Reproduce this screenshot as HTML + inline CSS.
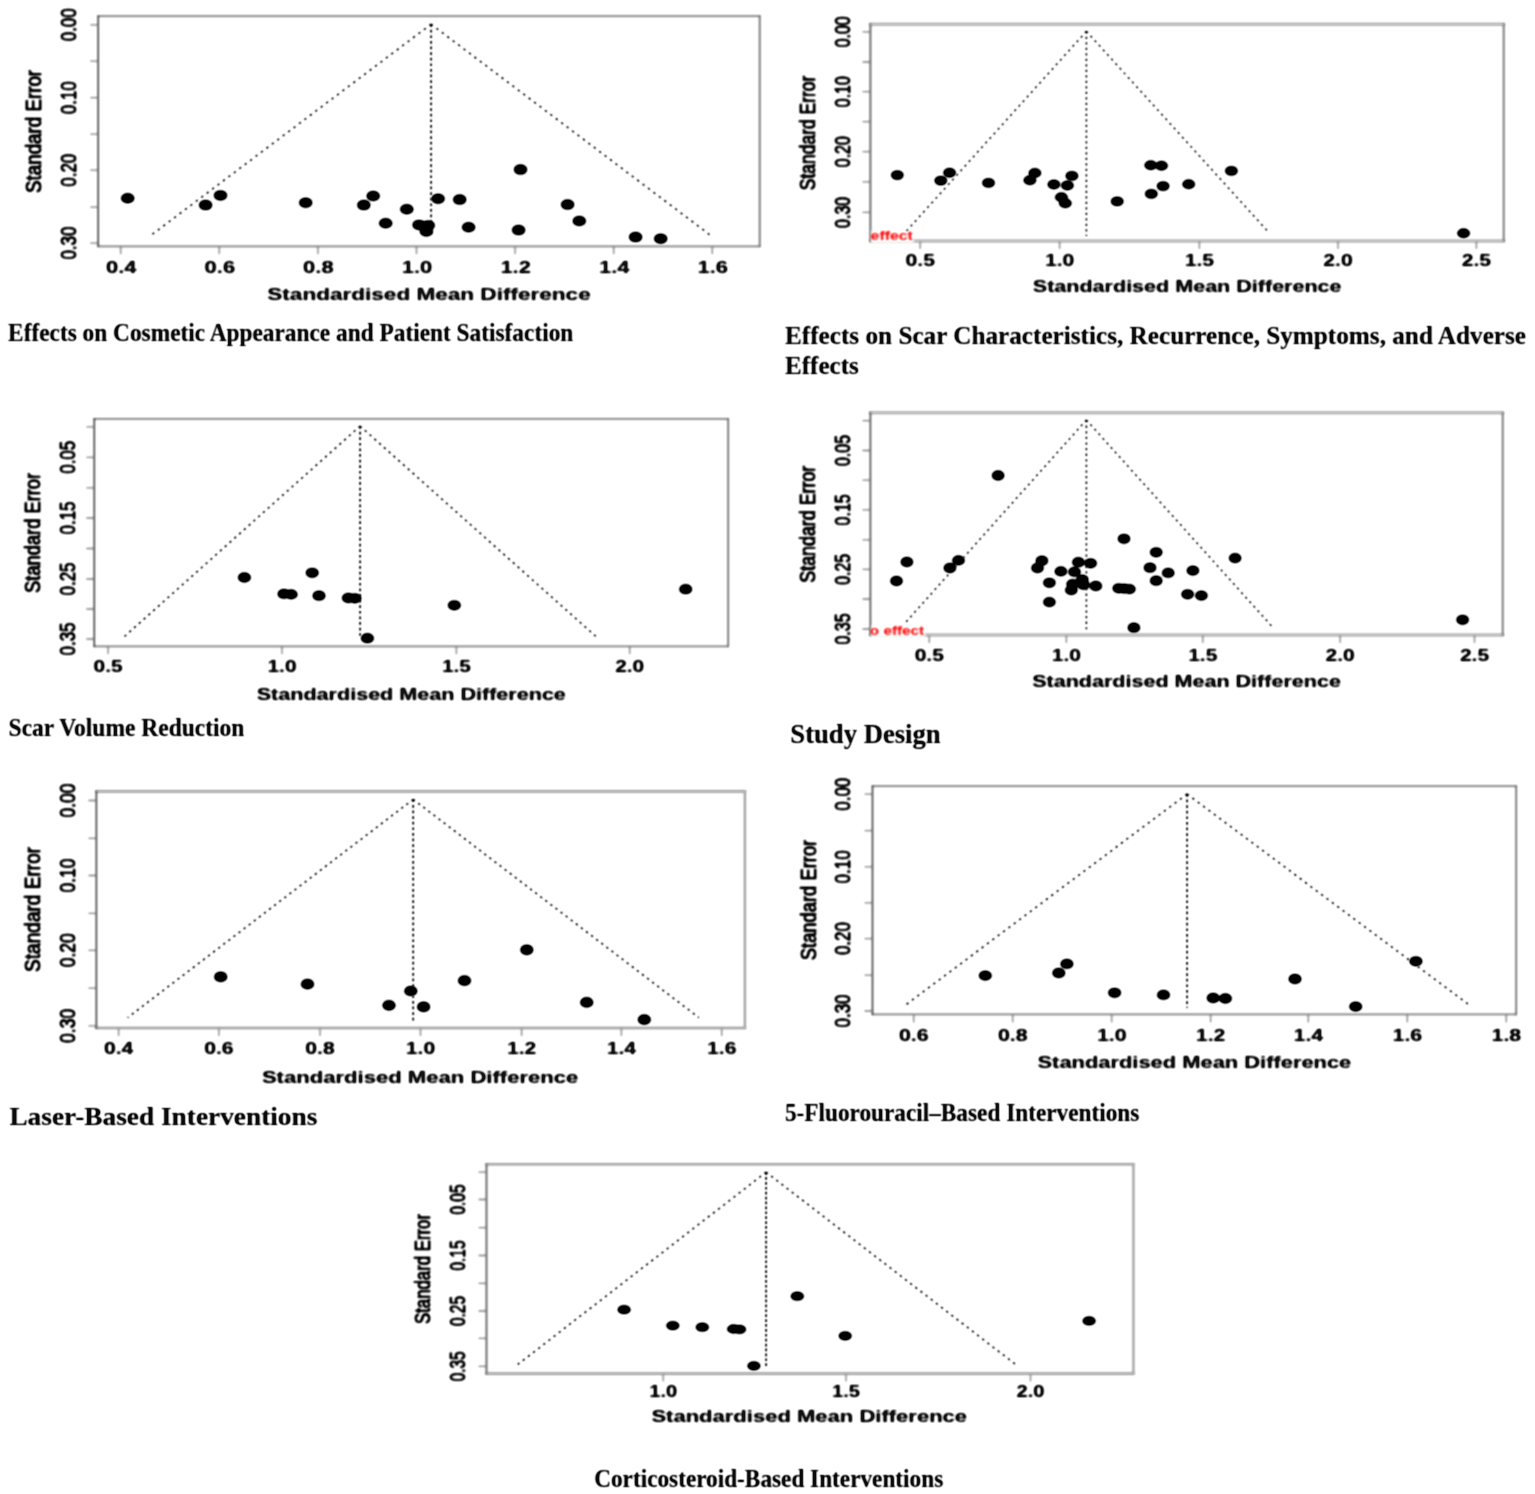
<!DOCTYPE html>
<html lang="en">
<head>
<meta charset="utf-8">
<title>Funnel plots</title>
<style>
html,body{margin:0;padding:0;background:#fff;}
body{width:1535px;height:1494px;overflow:hidden;}
svg{display:block;}
.ax{font-family:"Liberation Sans",Arial,Helvetica,sans-serif;fill:#111;}
.xl{font-weight:bold;}
.xt{font-weight:bold;}
.yl{font-weight:normal;font-size:22.8px;stroke:#111;stroke-width:0.7px;}
.yt{font-weight:normal;font-size:22.8px;stroke:#111;stroke-width:0.7px;}
.cap{font-family:"Liberation Serif","Times New Roman",serif;font-weight:bold;fill:#0a0a0a;}
.red{font-family:"Liberation Sans",Arial,sans-serif;font-weight:bold;fill:#ff2222;fill-opacity:0.88;}
.dot{fill:none;stroke:#161616;}
.tk{stroke:#9a9a9a;stroke-width:1.3;fill:none;}
.pt{fill:#000;}
</style>
</head>
<body>
<svg width="1535" height="1494" viewBox="0 0 1535 1494">
<defs>
<filter id="soft" x="-5%" y="-5%" width="110%" height="110%" color-interpolation-filters="sRGB"><feConvolveMatrix order="5" kernelMatrix="1 4 6 4 1 4 16 24 16 4 6 24 36 24 6 4 16 24 16 4 1 4 6 4 1" edgeMode="none"/><feComponentTransfer><feFuncA type="linear" slope="1.5" intercept="-0.06"/></feComponentTransfer></filter>
<filter id="soft2" x="-5%" y="-5%" width="110%" height="110%" color-interpolation-filters="sRGB"><feConvolveMatrix order="3" kernelMatrix="1 2 1 2 5 2 1 2 1" edgeMode="none"/><feComponentTransfer><feFuncA type="linear" slope="1.25" intercept="-0.03"/></feComponentTransfer></filter>
<filter id="soft3" x="-5%" y="-5%" width="110%" height="110%" color-interpolation-filters="sRGB"><feConvolveMatrix order="3" kernelMatrix="1 2 1 2 4 2 1 2 1" edgeMode="none"/><feComponentTransfer><feFuncA type="linear" slope="1.15" intercept="0"/></feComponentTransfer></filter>
</defs>
<rect x="0" y="0" width="1535" height="1494" fill="#ffffff"/>

<g id="p1">
<g filter="url(#soft)">
<path d="M98.2 16.2H759.7M98.2 246.3H759.7" fill="none" stroke="#9c9c9c" stroke-width="1.7" stroke-linecap="square"/>
<path d="M98.2 16.2V246.3" fill="none" stroke="#5e5e5e" stroke-width="1.5" stroke-linecap="square"/>
<path d="M759.7 16.2V246.3" fill="none" stroke="#8a8a8a" stroke-width="1.7" stroke-linecap="square"/>
<path class="tk" d="M90.2 24.8H98.2M90.2 61.2H98.2M90.2 97.7H98.2M90.2 134.2H98.2M90.2 170.2H98.2M90.2 207.2H98.2M90.2 243.1H98.2M120.7 246.3V254.3M219.3 246.3V254.3M317.9 246.3V254.3M416.5 246.3V254.3M515.1 246.3V254.3M613.7 246.3V254.3M712.3 246.3V254.3"/>
</g>
<g filter="url(#soft3)">
<path class="dot" stroke-width="1.6" stroke-dasharray="2.1 4.7" d="M431.1 24.2L149.3 236.6M431.1 24.2L712.2 236.6"/>
<path class="dot" stroke-width="1.7" stroke-dasharray="2.7 2.9" d="M431.1 24.2V236"/>
</g>
<g filter="url(#soft)">
<ellipse class="pt" cx="127.7" cy="198.3" rx="6.5" ry="5.0"/>
<ellipse class="pt" cx="205.6" cy="205.1" rx="6.5" ry="5.0"/>
<ellipse class="pt" cx="220.5" cy="195.4" rx="6.5" ry="5.0"/>
<ellipse class="pt" cx="305.7" cy="202.7" rx="6.5" ry="5.0"/>
<ellipse class="pt" cx="363.8" cy="205.1" rx="6.5" ry="5.0"/>
<ellipse class="pt" cx="373.2" cy="196" rx="6.5" ry="5.0"/>
<ellipse class="pt" cx="385.7" cy="223.3" rx="6.5" ry="5.0"/>
<ellipse class="pt" cx="406.8" cy="209.3" rx="6.5" ry="5.0"/>
<ellipse class="pt" cx="419.1" cy="224.9" rx="6.5" ry="5.0"/>
<ellipse class="pt" cx="428.2" cy="225.4" rx="6.5" ry="5.0"/>
<ellipse class="pt" cx="426.4" cy="231.4" rx="6.5" ry="5.0"/>
<ellipse class="pt" cx="438.1" cy="198.8" rx="6.5" ry="5.0"/>
<ellipse class="pt" cx="459.7" cy="199.6" rx="6.5" ry="5.0"/>
<ellipse class="pt" cx="468.6" cy="227.2" rx="6.5" ry="5.0"/>
<ellipse class="pt" cx="520.5" cy="169.6" rx="6.5" ry="5.0"/>
<ellipse class="pt" cx="518.6" cy="230.1" rx="6.5" ry="5.0"/>
<ellipse class="pt" cx="567.6" cy="204.6" rx="6.5" ry="5.0"/>
<ellipse class="pt" cx="579.3" cy="221" rx="6.5" ry="5.0"/>
<ellipse class="pt" cx="635.6" cy="237.1" rx="6.5" ry="5.0"/>
<ellipse class="pt" cx="660.7" cy="238.7" rx="6.5" ry="5.0"/>
<text class="ax yt" transform="translate(75.6 41.3) rotate(-90)" textLength="33" lengthAdjust="spacingAndGlyphs">0.00</text>
<text class="ax yt" transform="translate(75.6 114.2) rotate(-90)" textLength="33" lengthAdjust="spacingAndGlyphs">0.10</text>
<text class="ax yt" transform="translate(75.6 186.7) rotate(-90)" textLength="33" lengthAdjust="spacingAndGlyphs">0.20</text>
<text class="ax yt" transform="translate(75.6 259.6) rotate(-90)" textLength="33" lengthAdjust="spacingAndGlyphs">0.30</text>
<text class="ax yl" transform="translate(40.6 192.9) rotate(-90)" textLength="123" lengthAdjust="spacingAndGlyphs">Standard Error</text>
<text class="ax xt" font-size="17.2" x="106" y="272.6" textLength="30.5" lengthAdjust="spacingAndGlyphs">0.4</text>
<text class="ax xt" font-size="17.2" x="204.6" y="272.6" textLength="30.5" lengthAdjust="spacingAndGlyphs">0.6</text>
<text class="ax xt" font-size="17.2" x="303.1" y="272.6" textLength="30.5" lengthAdjust="spacingAndGlyphs">0.8</text>
<text class="ax xt" font-size="17.2" x="401.8" y="272.6" textLength="30.5" lengthAdjust="spacingAndGlyphs">1.0</text>
<text class="ax xt" font-size="17.2" x="500.4" y="272.6" textLength="30.5" lengthAdjust="spacingAndGlyphs">1.2</text>
<text class="ax xt" font-size="17.2" x="599" y="272.6" textLength="30.5" lengthAdjust="spacingAndGlyphs">1.4</text>
<text class="ax xt" font-size="17.2" x="697.5" y="272.6" textLength="30.5" lengthAdjust="spacingAndGlyphs">1.6</text>
<text class="ax xl" font-size="17.2" x="267.3" y="300" textLength="323.4" lengthAdjust="spacingAndGlyphs">Standardised Mean Difference</text>
</g>
</g>
<g id="p2">
<g filter="url(#soft)">
<path d="M870.4 24.2H1503.7M870.4 241H1503.7" fill="none" stroke="#c2c2c2" stroke-width="3.0" stroke-linecap="square"/>
<path d="M870.4 24.2V241" fill="none" stroke="#808080" stroke-width="1.8" stroke-linecap="square"/>
<path d="M1503.7 24.2V241" fill="none" stroke="#8a8a8a" stroke-width="1.7" stroke-linecap="square"/>
<path class="tk" d="M862.4 31.8H870.4M862.4 62H870.4M862.4 91.7H870.4M862.4 121.7H870.4M862.4 151.7H870.4M862.4 181.9H870.4M862.4 212.4H870.4M920.2 241V249M1059.6 241V249M1199.4 241V249M1338 241V249M1476.4 241V249"/>
<rect x="871.2" y="229.5" width="42.3" height="12.8" fill="#fff"/>
</g>
<g filter="url(#soft3)">
<path class="dot" stroke-width="1.5" stroke-dasharray="2.0 4.2" d="M1086.4 31.3L906.5 231M1086.4 31.3L1267.1 230.6"/>
<path class="dot" stroke-width="1.5" stroke-dasharray="2.3 3.2" d="M1086.4 31.3V236"/>
</g>
<g filter="url(#soft)">
<ellipse class="pt" cx="897.3" cy="175.1" rx="6.2" ry="4.7"/>
<ellipse class="pt" cx="940.8" cy="180.6" rx="6.2" ry="4.7"/>
<ellipse class="pt" cx="949.6" cy="172.8" rx="6.2" ry="4.7"/>
<ellipse class="pt" cx="988.5" cy="182.9" rx="6.2" ry="4.7"/>
<ellipse class="pt" cx="1029.9" cy="180.3" rx="6.2" ry="4.7"/>
<ellipse class="pt" cx="1034.9" cy="173" rx="6.2" ry="4.7"/>
<ellipse class="pt" cx="1053.9" cy="184.5" rx="6.2" ry="4.7"/>
<ellipse class="pt" cx="1067.4" cy="185.5" rx="6.2" ry="4.7"/>
<ellipse class="pt" cx="1071.9" cy="175.9" rx="6.2" ry="4.7"/>
<ellipse class="pt" cx="1061.4" cy="197.3" rx="6.2" ry="4.7"/>
<ellipse class="pt" cx="1065.3" cy="203.3" rx="6.2" ry="4.7"/>
<ellipse class="pt" cx="1117.2" cy="201.4" rx="6.2" ry="4.7"/>
<ellipse class="pt" cx="1150.8" cy="165.2" rx="6.2" ry="4.7"/>
<ellipse class="pt" cx="1161.5" cy="165.7" rx="6.2" ry="4.7"/>
<ellipse class="pt" cx="1163.1" cy="186.1" rx="6.2" ry="4.7"/>
<ellipse class="pt" cx="1151.3" cy="193.9" rx="6.2" ry="4.7"/>
<ellipse class="pt" cx="1188.7" cy="184.2" rx="6.2" ry="4.7"/>
<ellipse class="pt" cx="1231.4" cy="170.9" rx="6.2" ry="4.7"/>
<ellipse class="pt" cx="1463.6" cy="233.2" rx="6.2" ry="4.7"/>
<text class="ax yt" transform="translate(849.5 47.3) rotate(-90)" textLength="31" lengthAdjust="spacingAndGlyphs">0.00</text>
<text class="ax yt" transform="translate(849.5 107.2) rotate(-90)" textLength="31" lengthAdjust="spacingAndGlyphs">0.10</text>
<text class="ax yt" transform="translate(849.5 167.2) rotate(-90)" textLength="31" lengthAdjust="spacingAndGlyphs">0.20</text>
<text class="ax yt" transform="translate(849.5 227.9) rotate(-90)" textLength="31" lengthAdjust="spacingAndGlyphs">0.30</text>
<text class="ax yl" transform="translate(815.4 190.2) rotate(-90)" textLength="114.6" lengthAdjust="spacingAndGlyphs">Standard Error</text>
<text class="ax xt" font-size="17.2" x="905.5" y="265.6" textLength="29.4" lengthAdjust="spacingAndGlyphs">0.5</text>
<text class="ax xt" font-size="17.2" x="1044.9" y="265.6" textLength="29.4" lengthAdjust="spacingAndGlyphs">1.0</text>
<text class="ax xt" font-size="17.2" x="1184.7" y="265.6" textLength="29.4" lengthAdjust="spacingAndGlyphs">1.5</text>
<text class="ax xt" font-size="17.2" x="1323.3" y="265.6" textLength="29.4" lengthAdjust="spacingAndGlyphs">2.0</text>
<text class="ax xt" font-size="17.2" x="1461.7" y="265.6" textLength="29.4" lengthAdjust="spacingAndGlyphs">2.5</text>
<text class="ax xl" font-size="17.2" x="1032.8" y="291.7" textLength="308.8" lengthAdjust="spacingAndGlyphs">Standardised Mean Difference</text>
</g>
</g>
<g id="p3">
<g filter="url(#soft)">
<path d="M94.3 418.8H728.2M94.3 646.3H728.2" fill="none" stroke="#9c9c9c" stroke-width="1.7" stroke-linecap="square"/>
<path d="M94.3 418.8V646.3" fill="none" stroke="#5e5e5e" stroke-width="1.5" stroke-linecap="square"/>
<path d="M728.2 418.8V646.3" fill="none" stroke="#8a8a8a" stroke-width="1.7" stroke-linecap="square"/>
<path class="tk" d="M86.3 426.8H94.3M86.3 457.3H94.3M86.3 487.8H94.3M86.3 518H94.3M86.3 548.5H94.3M86.3 579H94.3M86.3 609H94.3M86.3 639H94.3M108.1 646.3V654.3M282 646.3V654.3M456.4 646.3V654.3M629.7 646.3V654.3"/>
</g>
<g filter="url(#soft3)">
<path class="dot" stroke-width="1.6" stroke-dasharray="2.1 4.3" d="M360.1 426.1L123.8 637.1M360.1 426.1L596.6 637.1"/>
<path class="dot" stroke-width="1.7" stroke-dasharray="2.7 2.9" d="M360.1 426.1V635.8"/>
</g>
<g filter="url(#soft)">
<ellipse class="pt" cx="244.4" cy="577.5" rx="6.3" ry="4.9"/>
<ellipse class="pt" cx="284" cy="593.9" rx="6.3" ry="4.9"/>
<ellipse class="pt" cx="291.1" cy="594.4" rx="6.3" ry="4.9"/>
<ellipse class="pt" cx="312.2" cy="572.8" rx="6.3" ry="4.9"/>
<ellipse class="pt" cx="319" cy="595.7" rx="6.3" ry="4.9"/>
<ellipse class="pt" cx="348.4" cy="598" rx="6.3" ry="4.9"/>
<ellipse class="pt" cx="354.9" cy="598.3" rx="6.3" ry="4.9"/>
<ellipse class="pt" cx="367.4" cy="638.2" rx="6.3" ry="4.9"/>
<ellipse class="pt" cx="454.3" cy="605.3" rx="6.3" ry="4.9"/>
<ellipse class="pt" cx="685.7" cy="589.2" rx="6.3" ry="4.9"/>
<text class="ax yt" transform="translate(75.2 473.8) rotate(-90)" textLength="33" lengthAdjust="spacingAndGlyphs">0.05</text>
<text class="ax yt" transform="translate(75.2 534.5) rotate(-90)" textLength="33" lengthAdjust="spacingAndGlyphs">0.15</text>
<text class="ax yt" transform="translate(75.2 595.5) rotate(-90)" textLength="33" lengthAdjust="spacingAndGlyphs">0.25</text>
<text class="ax yt" transform="translate(75.2 655.5) rotate(-90)" textLength="33" lengthAdjust="spacingAndGlyphs">0.35</text>
<text class="ax yl" transform="translate(40.1 592.9) rotate(-90)" textLength="120" lengthAdjust="spacingAndGlyphs">Standard Error</text>
<text class="ax xt" font-size="17.2" x="93.6" y="672.2" textLength="29" lengthAdjust="spacingAndGlyphs">0.5</text>
<text class="ax xt" font-size="17.2" x="267.5" y="672.2" textLength="29" lengthAdjust="spacingAndGlyphs">1.0</text>
<text class="ax xt" font-size="17.2" x="441.9" y="672.2" textLength="29" lengthAdjust="spacingAndGlyphs">1.5</text>
<text class="ax xt" font-size="17.2" x="615.2" y="672.2" textLength="29" lengthAdjust="spacingAndGlyphs">2.0</text>
<text class="ax xl" font-size="17.2" x="256.7" y="699.6" textLength="309.2" lengthAdjust="spacingAndGlyphs">Standardised Mean Difference</text>
</g>
</g>
<g id="p4">
<g filter="url(#soft)">
<path d="M870.4 412.7H1502.7M870.4 635H1502.7" fill="none" stroke="#c2c2c2" stroke-width="3.0" stroke-linecap="square"/>
<path d="M870.4 412.7V635" fill="none" stroke="#707070" stroke-width="1.6" stroke-linecap="square"/>
<path d="M1502.7 412.7V635" fill="none" stroke="#8a8a8a" stroke-width="1.7" stroke-linecap="square"/>
<path class="tk" d="M862.4 420.7H870.4M862.4 450.5H870.4M862.4 480.2H870.4M862.4 509.9H870.4M862.4 539.8H870.4M862.4 569.3H870.4M862.4 599H870.4M862.4 629H870.4M929.3 635V643M1066.4 635V643M1202.8 635V643M1340.1 635V643M1474.5 635V643"/>
<rect x="871.2" y="624" width="53.8" height="12.5" fill="#fff"/>
</g>
<g filter="url(#soft3)">
<path class="dot" stroke-width="1.5" stroke-dasharray="2.0 4.1" d="M1086.4 420L903.5 624.8M1086.4 420L1273.1 627.7"/>
<path class="dot" stroke-width="1.5" stroke-dasharray="2.3 3.3" d="M1086.4 420V629.2"/>
</g>
<g filter="url(#soft)">
<ellipse class="pt" cx="998.1" cy="475.5" rx="6.1" ry="4.9"/>
<ellipse class="pt" cx="906.9" cy="562" rx="6.1" ry="4.9"/>
<ellipse class="pt" cx="896.5" cy="581" rx="6.1" ry="4.9"/>
<ellipse class="pt" cx="949.9" cy="568" rx="6.1" ry="4.9"/>
<ellipse class="pt" cx="958.5" cy="560.4" rx="6.1" ry="4.9"/>
<ellipse class="pt" cx="1041.9" cy="560.7" rx="6.1" ry="4.9"/>
<ellipse class="pt" cx="1037.5" cy="568" rx="6.1" ry="4.9"/>
<ellipse class="pt" cx="1060.9" cy="571.4" rx="6.1" ry="4.9"/>
<ellipse class="pt" cx="1049.4" cy="582.8" rx="6.1" ry="4.9"/>
<ellipse class="pt" cx="1049.4" cy="602.1" rx="6.1" ry="4.9"/>
<ellipse class="pt" cx="1074.5" cy="571.9" rx="6.1" ry="4.9"/>
<ellipse class="pt" cx="1078.4" cy="562.2" rx="6.1" ry="4.9"/>
<ellipse class="pt" cx="1090.6" cy="563.3" rx="6.1" ry="4.9"/>
<ellipse class="pt" cx="1082.3" cy="579.7" rx="6.1" ry="4.9"/>
<ellipse class="pt" cx="1072.6" cy="584.1" rx="6.1" ry="4.9"/>
<ellipse class="pt" cx="1083.6" cy="584.9" rx="6.1" ry="4.9"/>
<ellipse class="pt" cx="1071.3" cy="590.1" rx="6.1" ry="4.9"/>
<ellipse class="pt" cx="1095.8" cy="586" rx="6.1" ry="4.9"/>
<ellipse class="pt" cx="1124" cy="538.8" rx="6.1" ry="4.9"/>
<ellipse class="pt" cx="1118.8" cy="588.3" rx="6.1" ry="4.9"/>
<ellipse class="pt" cx="1124.2" cy="588.6" rx="6.1" ry="4.9"/>
<ellipse class="pt" cx="1129.4" cy="589.1" rx="6.1" ry="4.9"/>
<ellipse class="pt" cx="1133.9" cy="627.7" rx="6.1" ry="4.9"/>
<ellipse class="pt" cx="1156.2" cy="552.3" rx="6.1" ry="4.9"/>
<ellipse class="pt" cx="1150" cy="567.7" rx="6.1" ry="4.9"/>
<ellipse class="pt" cx="1156.2" cy="580.7" rx="6.1" ry="4.9"/>
<ellipse class="pt" cx="1168.2" cy="572.9" rx="6.1" ry="4.9"/>
<ellipse class="pt" cx="1192.9" cy="570.6" rx="6.1" ry="4.9"/>
<ellipse class="pt" cx="1187.6" cy="594.3" rx="6.1" ry="4.9"/>
<ellipse class="pt" cx="1201.4" cy="595.6" rx="6.1" ry="4.9"/>
<ellipse class="pt" cx="1235.1" cy="558.1" rx="6.1" ry="4.9"/>
<ellipse class="pt" cx="1462.6" cy="619.8" rx="6.1" ry="4.9"/>
<text class="ax yt" transform="translate(849.5 466) rotate(-90)" textLength="31" lengthAdjust="spacingAndGlyphs">0.05</text>
<text class="ax yt" transform="translate(849.5 525.4) rotate(-90)" textLength="31" lengthAdjust="spacingAndGlyphs">0.15</text>
<text class="ax yt" transform="translate(849.5 584.8) rotate(-90)" textLength="31" lengthAdjust="spacingAndGlyphs">0.25</text>
<text class="ax yt" transform="translate(849.5 644.5) rotate(-90)" textLength="31" lengthAdjust="spacingAndGlyphs">0.35</text>
<text class="ax yl" transform="translate(815.4 582.7) rotate(-90)" textLength="117" lengthAdjust="spacingAndGlyphs">Standard Error</text>
<text class="ax xt" font-size="17.2" x="914.7" y="660.9" textLength="29.2" lengthAdjust="spacingAndGlyphs">0.5</text>
<text class="ax xt" font-size="17.2" x="1051.8" y="660.9" textLength="29.2" lengthAdjust="spacingAndGlyphs">1.0</text>
<text class="ax xt" font-size="17.2" x="1188.2" y="660.9" textLength="29.2" lengthAdjust="spacingAndGlyphs">1.5</text>
<text class="ax xt" font-size="17.2" x="1325.5" y="660.9" textLength="29.2" lengthAdjust="spacingAndGlyphs">2.0</text>
<text class="ax xt" font-size="17.2" x="1459.9" y="660.9" textLength="29.2" lengthAdjust="spacingAndGlyphs">2.5</text>
<text class="ax xl" font-size="17.2" x="1032.2" y="687" textLength="308.7" lengthAdjust="spacingAndGlyphs">Standardised Mean Difference</text>
</g>
</g>
<g id="p5">
<g filter="url(#soft)">
<path d="M96.4 791.4H744.9M96.4 1028H744.9" fill="none" stroke="#b8b8b8" stroke-width="2.6" stroke-linecap="square"/>
<path d="M96.4 791.4V1028" fill="none" stroke="#5e5e5e" stroke-width="1.5" stroke-linecap="square"/>
<path d="M744.9 791.4V1028" fill="none" stroke="#b4b4b4" stroke-width="2.2" stroke-linecap="square"/>
<path class="tk" d="M88.4 800.5H96.4M88.4 838.3H96.4M88.4 875.5H96.4M88.4 913.3H96.4M88.4 950.3H96.4M88.4 988.1H96.4M88.4 1025.9H96.4M118.6 1028V1036M218.9 1028V1036M320 1028V1036M420.5 1028V1036M521.6 1028V1036M621.4 1028V1036M721.7 1028V1036"/>
</g>
<g filter="url(#soft3)">
<path class="dot" stroke-width="1.6" stroke-dasharray="2.1 4.3" d="M413.2 799.4L127.7 1017.6M413.2 799.4L698.8 1017.6"/>
<path class="dot" stroke-width="1.7" stroke-dasharray="2.7 2.9" d="M413.2 799.4V1021.5"/>
</g>
<g filter="url(#soft)">
<ellipse class="pt" cx="220.7" cy="976.9" rx="6.4" ry="5.1"/>
<ellipse class="pt" cx="307.5" cy="984.2" rx="6.4" ry="5.1"/>
<ellipse class="pt" cx="389" cy="1005.3" rx="6.4" ry="5.1"/>
<ellipse class="pt" cx="410.8" cy="991" rx="6.4" ry="5.1"/>
<ellipse class="pt" cx="423.6" cy="1006.9" rx="6.4" ry="5.1"/>
<ellipse class="pt" cx="464.5" cy="980.6" rx="6.4" ry="5.1"/>
<ellipse class="pt" cx="526.8" cy="949.8" rx="6.4" ry="5.1"/>
<ellipse class="pt" cx="586.7" cy="1002.4" rx="6.4" ry="5.1"/>
<ellipse class="pt" cx="644.3" cy="1019.6" rx="6.4" ry="5.1"/>
<text class="ax yt" transform="translate(75.2 817.5) rotate(-90)" textLength="34" lengthAdjust="spacingAndGlyphs">0.00</text>
<text class="ax yt" transform="translate(75.2 892.5) rotate(-90)" textLength="34" lengthAdjust="spacingAndGlyphs">0.10</text>
<text class="ax yt" transform="translate(75.2 967.3) rotate(-90)" textLength="34" lengthAdjust="spacingAndGlyphs">0.20</text>
<text class="ax yt" transform="translate(75.2 1042.9) rotate(-90)" textLength="34" lengthAdjust="spacingAndGlyphs">0.30</text>
<text class="ax yl" transform="translate(40.1 971.9) rotate(-90)" textLength="125" lengthAdjust="spacingAndGlyphs">Standard Error</text>
<text class="ax xt" font-size="17.2" x="103.9" y="1053.9" textLength="29.4" lengthAdjust="spacingAndGlyphs">0.4</text>
<text class="ax xt" font-size="17.2" x="204.2" y="1053.9" textLength="29.4" lengthAdjust="spacingAndGlyphs">0.6</text>
<text class="ax xt" font-size="17.2" x="305.3" y="1053.9" textLength="29.4" lengthAdjust="spacingAndGlyphs">0.8</text>
<text class="ax xt" font-size="17.2" x="405.8" y="1053.9" textLength="29.4" lengthAdjust="spacingAndGlyphs">1.0</text>
<text class="ax xt" font-size="17.2" x="506.9" y="1053.9" textLength="29.4" lengthAdjust="spacingAndGlyphs">1.2</text>
<text class="ax xt" font-size="17.2" x="606.7" y="1053.9" textLength="29.4" lengthAdjust="spacingAndGlyphs">1.4</text>
<text class="ax xt" font-size="17.2" x="707" y="1053.9" textLength="29.4" lengthAdjust="spacingAndGlyphs">1.6</text>
<text class="ax xl" font-size="17.2" x="261.9" y="1082.6" textLength="316.5" lengthAdjust="spacingAndGlyphs">Standardised Mean Difference</text>
</g>
</g>
<g id="p6">
<g filter="url(#soft)">
<path d="M872.5 786.2H1516.2M872.5 1014.4H1516.2" fill="none" stroke="#9c9c9c" stroke-width="1.7" stroke-linecap="square"/>
<path d="M872.5 786.2V1014.4" fill="none" stroke="#5e5e5e" stroke-width="1.5" stroke-linecap="square"/>
<path d="M1516.2 786.2V1014.4" fill="none" stroke="#8a8a8a" stroke-width="1.7" stroke-linecap="square"/>
<path class="tk" d="M864.5 794.2H872.5M864.5 830.7H872.5M864.5 866.9H872.5M864.5 902.9H872.5M864.5 938.6H872.5M864.5 975.1H872.5M864.5 1011H872.5M913.7 1014.4V1022.4M1012.7 1014.4V1022.4M1111.7 1014.4V1022.4M1210.6 1014.4V1022.4M1308.3 1014.4V1022.4M1407.3 1014.4V1022.4M1506.3 1014.4V1022.4"/>
</g>
<g filter="url(#soft3)">
<path class="dot" stroke-width="1.6" stroke-dasharray="2.1 4.6" d="M1187.1 794L904.6 1005.8M1187.1 794L1470.4 1005.8"/>
<path class="dot" stroke-width="1.7" stroke-dasharray="2.7 2.9" d="M1187.1 794V1007.7"/>
</g>
<g filter="url(#soft)">
<ellipse class="pt" cx="985.3" cy="975.6" rx="6.3" ry="4.9"/>
<ellipse class="pt" cx="1058.8" cy="973" rx="6.3" ry="4.9"/>
<ellipse class="pt" cx="1066.9" cy="963.9" rx="6.3" ry="4.9"/>
<ellipse class="pt" cx="1114.6" cy="992.8" rx="6.3" ry="4.9"/>
<ellipse class="pt" cx="1163.5" cy="994.9" rx="6.3" ry="4.9"/>
<ellipse class="pt" cx="1213.2" cy="998" rx="6.3" ry="4.9"/>
<ellipse class="pt" cx="1225.4" cy="998.5" rx="6.3" ry="4.9"/>
<ellipse class="pt" cx="1295" cy="979" rx="6.3" ry="4.9"/>
<ellipse class="pt" cx="1355.7" cy="1006.6" rx="6.3" ry="4.9"/>
<ellipse class="pt" cx="1415.9" cy="961.3" rx="6.3" ry="4.9"/>
<text class="ax yt" transform="translate(850 810.7) rotate(-90)" textLength="33" lengthAdjust="spacingAndGlyphs">0.00</text>
<text class="ax yt" transform="translate(850 883.4) rotate(-90)" textLength="33" lengthAdjust="spacingAndGlyphs">0.10</text>
<text class="ax yt" transform="translate(850 955.1) rotate(-90)" textLength="33" lengthAdjust="spacingAndGlyphs">0.20</text>
<text class="ax yt" transform="translate(850 1027.5) rotate(-90)" textLength="33" lengthAdjust="spacingAndGlyphs">0.30</text>
<text class="ax yl" transform="translate(815.5 960.2) rotate(-90)" textLength="120.4" lengthAdjust="spacingAndGlyphs">Standard Error</text>
<text class="ax xt" font-size="17.2" x="898.9" y="1040.9" textLength="29.7" lengthAdjust="spacingAndGlyphs">0.6</text>
<text class="ax xt" font-size="17.2" x="997.9" y="1040.9" textLength="29.7" lengthAdjust="spacingAndGlyphs">0.8</text>
<text class="ax xt" font-size="17.2" x="1096.9" y="1040.9" textLength="29.7" lengthAdjust="spacingAndGlyphs">1.0</text>
<text class="ax xt" font-size="17.2" x="1195.8" y="1040.9" textLength="29.7" lengthAdjust="spacingAndGlyphs">1.2</text>
<text class="ax xt" font-size="17.2" x="1293.5" y="1040.9" textLength="29.7" lengthAdjust="spacingAndGlyphs">1.4</text>
<text class="ax xt" font-size="17.2" x="1392.5" y="1040.9" textLength="29.7" lengthAdjust="spacingAndGlyphs">1.6</text>
<text class="ax xt" font-size="17.2" x="1491.5" y="1040.9" textLength="29.7" lengthAdjust="spacingAndGlyphs">1.8</text>
<text class="ax xl" font-size="17.2" x="1037.5" y="1067.5" textLength="313.8" lengthAdjust="spacingAndGlyphs">Standardised Mean Difference</text>
</g>
</g>
<g id="p7">
<g filter="url(#soft)">
<path d="M486.5 1164.3H1133.4M486.5 1373.6H1133.4" fill="none" stroke="#b8b8b8" stroke-width="2.6" stroke-linecap="square"/>
<path d="M486.5 1164.3V1373.6" fill="none" stroke="#808080" stroke-width="1.8" stroke-linecap="square"/>
<path d="M1133.4 1164.3V1373.6" fill="none" stroke="#b4b4b4" stroke-width="2.2" stroke-linecap="square"/>
<path class="tk" d="M478.5 1172.2H486.5M478.5 1199.5H486.5M478.5 1227.7H486.5M478.5 1255.5H486.5M478.5 1283.4H486.5M478.5 1311H486.5M478.5 1338.4H486.5M478.5 1366.3H486.5M663.2 1373.6V1381.6M846 1373.6V1381.6M1030.5 1373.6V1381.6"/>
</g>
<g filter="url(#soft3)">
<path class="dot" stroke-width="1.6" stroke-dasharray="2.1 4.4" d="M766.1 1172.2L515.4 1366.3M766.1 1172.2L1018 1366.3"/>
<path class="dot" stroke-width="1.7" stroke-dasharray="2.7 2.2" d="M766.1 1172.2V1366.8"/>
</g>
<g filter="url(#soft)">
<ellipse class="pt" cx="624.1" cy="1309.7" rx="6.4" ry="4.4"/>
<ellipse class="pt" cx="672.8" cy="1325.6" rx="6.4" ry="4.4"/>
<ellipse class="pt" cx="702.3" cy="1327.2" rx="6.4" ry="4.4"/>
<ellipse class="pt" cx="733.6" cy="1329" rx="6.4" ry="4.4"/>
<ellipse class="pt" cx="739.5" cy="1329.3" rx="6.4" ry="4.4"/>
<ellipse class="pt" cx="753.9" cy="1365.8" rx="6.4" ry="4.4"/>
<ellipse class="pt" cx="797.3" cy="1296.2" rx="6.4" ry="4.4"/>
<ellipse class="pt" cx="845.2" cy="1335.8" rx="6.4" ry="4.4"/>
<ellipse class="pt" cx="1089.1" cy="1320.9" rx="6.4" ry="4.4"/>
<text class="ax yt" transform="translate(464.8 1214.5) rotate(-90)" textLength="30" lengthAdjust="spacingAndGlyphs">0.05</text>
<text class="ax yt" transform="translate(464.8 1270.5) rotate(-90)" textLength="30" lengthAdjust="spacingAndGlyphs">0.15</text>
<text class="ax yt" transform="translate(464.8 1326) rotate(-90)" textLength="30" lengthAdjust="spacingAndGlyphs">0.25</text>
<text class="ax yt" transform="translate(464.8 1381.3) rotate(-90)" textLength="30" lengthAdjust="spacingAndGlyphs">0.35</text>
<text class="ax yl" transform="translate(429.6 1324) rotate(-90)" textLength="110" lengthAdjust="spacingAndGlyphs">Standard Error</text>
<text class="ax xt" font-size="15.8" x="649.2" y="1396.9" textLength="28" lengthAdjust="spacingAndGlyphs">1.0</text>
<text class="ax xt" font-size="15.8" x="832" y="1396.9" textLength="28" lengthAdjust="spacingAndGlyphs">1.5</text>
<text class="ax xt" font-size="15.8" x="1016.5" y="1396.9" textLength="28" lengthAdjust="spacingAndGlyphs">2.0</text>
<text class="ax xl" font-size="15.8" x="651.4" y="1421.7" textLength="315.7" lengthAdjust="spacingAndGlyphs">Standardised Mean Difference</text>
</g>
</g>
<g id="notes" filter="url(#soft)">
<text class="red" x="870.6" y="240.3" font-size="12.5" textLength="42.2" lengthAdjust="spacingAndGlyphs">effect</text>
<text class="red" x="869.8" y="635.2" font-size="13" textLength="54.4" lengthAdjust="spacingAndGlyphs">o effect</text>
</g>
<g id="captions" filter="url(#soft2)">
<text class="cap" x="8.1" y="340.6" font-size="26" textLength="565.2" lengthAdjust="spacingAndGlyphs">Effects on Cosmetic Appearance and Patient Satisfaction</text>
<text class="cap" x="785" y="344.2" font-size="25.5" textLength="741" lengthAdjust="spacingAndGlyphs">Effects on Scar Characteristics, Recurrence, Symptoms, and Adverse</text>
<text class="cap" x="785" y="374.2" font-size="25.5" textLength="73.8" lengthAdjust="spacingAndGlyphs">Effects</text>
<text class="cap" x="8.6" y="736.2" font-size="26" textLength="235.8" lengthAdjust="spacingAndGlyphs">Scar Volume Reduction</text>
<text class="cap" x="790.3" y="742.8" font-size="26.5" textLength="150.4" lengthAdjust="spacingAndGlyphs">Study Design</text>
<text class="cap" x="9.4" y="1125.3" font-size="26" textLength="308" lengthAdjust="spacingAndGlyphs">Laser-Based Interventions</text>
<text class="cap" x="784.9" y="1121.2" font-size="25" textLength="354.4" lengthAdjust="spacingAndGlyphs">5-Fluorouracil–Based Interventions</text>
<text class="cap" x="594.2" y="1486.6" font-size="26" textLength="349" lengthAdjust="spacingAndGlyphs">Corticosteroid-Based Interventions</text>
</g>
</svg>
</body>
</html>
